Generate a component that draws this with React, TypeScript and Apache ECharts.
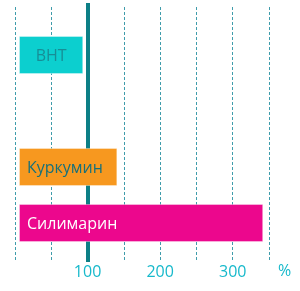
import React, { useEffect, useRef } from "react";
import * as echarts from "echarts";

const categories = ["BHT", "", "Куркумин", "Силимарин"];
const values: (number | null)[] = [94, null, 141, 342];
const tickLabels = [100, 200, 300];
const referenceValue = 100;
const unitLabel = "%";

const barColors = ["#0ccfcf", "transparent", "#f7981f", "#ec078d"];
const labelColors = ["#178e96", "#000", "#17707a", "#ffffff"];
const labelPositions = ["inside", "inside", "insideLeft", "insideLeft"];

const X_MIN = 0;
const X_MAX = 350;
const X_INTERVAL = 50;
const BAR_OFFSET = 5.5;
const FONT = "'Open Sans', 'Noto Sans', sans-serif";

export default function App() {
  const ref = useRef<HTMLDivElement>(null);
  useEffect(() => {
    if (!ref.current) return;
    const chart = echarts.init(ref.current, null, { renderer: "svg" });
    const left = 15;
    const right = 31;
    const hiddenAxis = { show: false };
    const option: any = {
      animation: false,
      grid: [
        { left, right, top: 7, bottom: 30 },
        { left, right, top: 27, bottom: 40 },
        { left, right, top: 3, bottom: 29 },
      ],
      xAxis: [
        {
          gridIndex: 0,
          type: "value",
          min: X_MIN,
          max: X_MAX,
          interval: X_INTERVAL,
          axisLine: { show: false },
          axisTick: { show: false },
          splitLine: {
            show: true,
            lineStyle: { color: "#3f9cab", width: 1, type: [3, 2] },
          },
          axisLabel: {
            margin: 2,
            color: "#17b9cb",
            fontSize: 16,
            fontFamily: FONT,
            formatter: (v: number) => (tickLabels.includes(v) ? String(v) : ""),
          },
          name: unitLabel,
          nameLocation: "end",
          nameGap: 9,
          nameTextStyle: {
            color: "#17b9cb",
            fontSize: 16,
            fontFamily: FONT,
            verticalAlign: "top",
            padding: [1, 0, 0, 0],
          },
        },
        { gridIndex: 1, type: "value", min: X_MIN, max: X_MAX, ...hiddenAxis },
        { gridIndex: 2, type: "value", min: X_MIN, max: X_MAX, ...hiddenAxis },
      ],
      yAxis: [
        { gridIndex: 0, type: "value", ...hiddenAxis },
        {
          gridIndex: 1,
          type: "category",
          inverse: true,
          data: categories,
          ...hiddenAxis,
        },
        { gridIndex: 2, type: "value", min: 0, max: 1, ...hiddenAxis },
      ],
      series: [
        {
          type: "line",
          xAxisIndex: 2,
          yAxisIndex: 2,
          data: [],
          z: 1,
          markLine: {
            silent: true,
            z: 1,
            symbol: ["none", "none"],
            label: { show: false },
            lineStyle: { color: "#0d7f86", width: 4, type: "solid" },
            data: [{ xAxis: referenceValue }],
          },
        },
        {
          type: "bar",
          stack: "s",
          xAxisIndex: 1,
          yAxisIndex: 1,
          barWidth: 38,
          z: 3,
          silent: true,
          itemStyle: { color: "transparent" },
          data: values.map((v) => (v == null ? null : BAR_OFFSET)),
        },
        {
          type: "bar",
          stack: "s",
          xAxisIndex: 1,
          yAxisIndex: 1,
          barWidth: 38,
          z: 3,
          data: values.map((v, i) =>
            v == null
              ? null
              : {
                  value: v - BAR_OFFSET,
                  itemStyle: {
                    color: barColors[i],
                    borderColor: "rgba(255,255,255,0.35)",
                    borderWidth: 1,
                  },
                  label: {
                    show: true,
                    position: labelPositions[i],
                    distance: 8,
                    formatter: categories[i],
                    color: labelColors[i],
                    fontSize: 16,
                    fontFamily: FONT,
                  },
                }
          ),
        },
      ],
    };
    chart.setOption(option);
    return () => chart.dispose();
  }, []);
  return (
    <div
      ref={ref}
      style={{ position: "fixed", left: 0, top: 0, width: 300, height: 291 }}
    />
  );
}
